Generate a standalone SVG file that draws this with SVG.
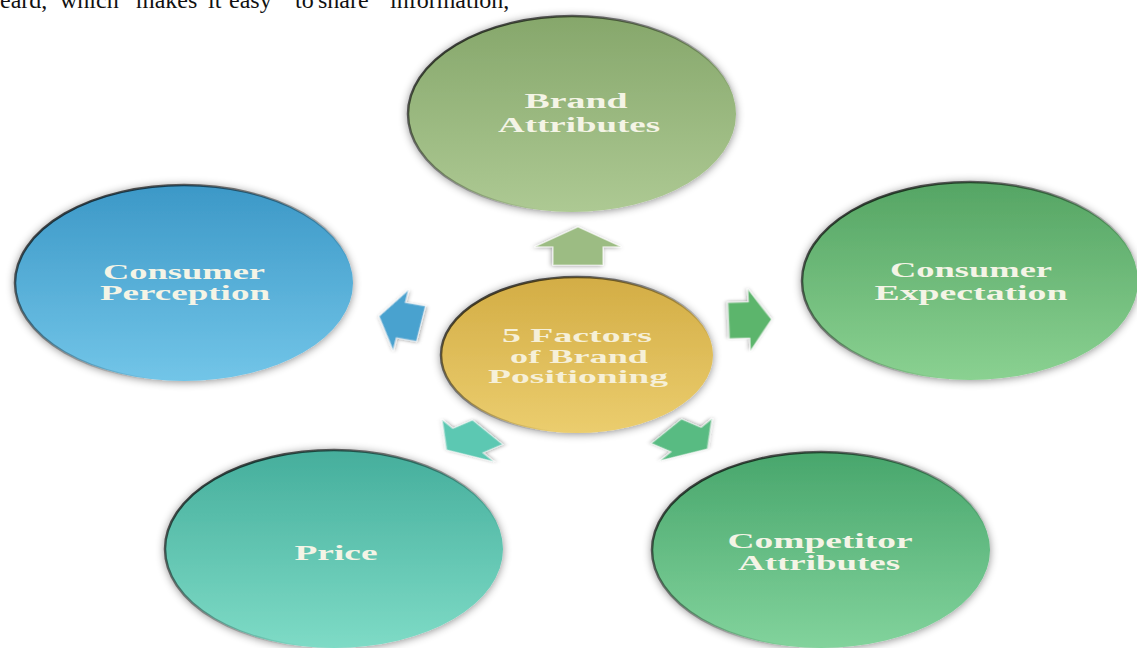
<svg xmlns="http://www.w3.org/2000/svg" width="1137" height="648" viewBox="0 0 1137 648">
  <style>
    .hdr { font-family: "Liberation Serif", "Times New Roman", serif; font-size: 24px; fill: #111; }
    .lbl { font-family: "Liberation Serif", "Times New Roman", serif; font-weight: bold; font-size: 20px; fill: #f4f4e6; text-anchor: middle; }
    .lblc { font-family: "Liberation Serif", "Times New Roman", serif; font-weight: bold; font-size: 19px; fill: #f6f0d8; text-anchor: middle; }
    .node { filter: url(#shadow); stroke: url(#rim); stroke-width: 2.5; }
    .arr { filter: url(#ashadow); stroke: #ffffff; stroke-opacity: 0.55; stroke-width: 1.5; stroke-linejoin: round; }
  </style>
  <defs>
    <filter id="shadow" x="-10%" y="-15%" width="120%" height="130%">
      <feDropShadow dx="0" dy="1" stdDeviation="4" flood-color="#000" flood-opacity="0.45"/>
    </filter>
    <filter id="ashadow" x="-30%" y="-30%" width="160%" height="160%">
      <feDropShadow dx="-1" dy="1" stdDeviation="2.5" flood-color="#000" flood-opacity="0.4"/>
    </filter>
    <linearGradient id="rim" x1="0" y1="0" x2="1" y2="1">
      <stop offset="0" stop-color="#000" stop-opacity="0.85"/>
      <stop offset="0.45" stop-color="#000" stop-opacity="0.35"/>
      <stop offset="0.7" stop-color="#000" stop-opacity="0"/>
    </linearGradient>
    <linearGradient id="gBrand" x1="0" y1="0" x2="0" y2="1">
      <stop offset="0" stop-color="#86a76b"/>
      <stop offset="1" stop-color="#adc993"/>
    </linearGradient>
    <linearGradient id="gPerc" x1="0" y1="0" x2="0" y2="1">
      <stop offset="0" stop-color="#3c98c7"/>
      <stop offset="1" stop-color="#72c5e8"/>
    </linearGradient>
    <linearGradient id="gExp" x1="0" y1="0" x2="0" y2="1">
      <stop offset="0" stop-color="#55a564"/>
      <stop offset="1" stop-color="#8ad191"/>
    </linearGradient>
    <linearGradient id="gPrice" x1="0" y1="0" x2="0" y2="1">
      <stop offset="0" stop-color="#45ae9c"/>
      <stop offset="1" stop-color="#7edbc6"/>
    </linearGradient>
    <linearGradient id="gComp" x1="0" y1="0" x2="0" y2="1">
      <stop offset="0" stop-color="#48a66c"/>
      <stop offset="1" stop-color="#82d39c"/>
    </linearGradient>
    <linearGradient id="gCenter" x1="0" y1="0" x2="0" y2="1">
      <stop offset="0" stop-color="#d3ad45"/>
      <stop offset="1" stop-color="#ebcd6e"/>
    </linearGradient>
    <path id="arrow" d="M0,-25 L43,1 L25,1 L25,25 L-25,25 L-25,1 L-43,1 Z"/>
  </defs>

  <rect width="1137" height="648" fill="#ffffff"/>

  <g id="header-text">
    <text class="hdr" x="0" y="8">eard,</text>
    <text class="hdr" x="60" y="8">which</text>
    <text class="hdr" x="136" y="8">makes</text>
    <text class="hdr" x="208" y="8">it</text>
    <text class="hdr" x="229" y="8">easy</text>
    <text class="hdr" x="295" y="8">to</text>
    <text class="hdr" x="318" y="8">share</text>
    <text class="hdr" x="390" y="8">information,</text>
  </g>

  <g id="connectors">
    <use href="#arrow" class="arr" fill="#9cbc83" transform="translate(578,246) scale(1,0.76)"/>
    <use href="#arrow" class="arr" fill="#4aa2cf" transform="translate(400,320) scale(0.86,0.72) rotate(-78)"/>
    <use href="#arrow" class="arr" fill="#5cb56c" transform="translate(750,320) scale(0.86,0.72) rotate(88)"/>
    <use href="#arrow" class="arr" fill="#5cc8b2" transform="translate(467,441) scale(1.02,0.6) rotate(234)"/>
    <use href="#arrow" class="arr" fill="#58bb82" transform="translate(687,440) scale(1.02,0.6) rotate(126)"/>
  </g>

  <g id="node-brand-attributes">
    <ellipse class="node" cx="572" cy="114" rx="164" ry="98" fill="url(#gBrand)"/>
    <text class="lbl" x="576" y="108" textLength="103" lengthAdjust="spacingAndGlyphs">Brand</text>
    <text class="lbl" x="579" y="132" textLength="162" lengthAdjust="spacingAndGlyphs">Attributes</text>
  </g>

  <g id="node-consumer-perception">
    <ellipse class="node" cx="184" cy="283" rx="169" ry="98" fill="url(#gPerc)"/>
    <text class="lbl" x="184" y="279" textLength="162" lengthAdjust="spacingAndGlyphs">Consumer</text>
    <text class="lbl" x="185" y="300" textLength="170" lengthAdjust="spacingAndGlyphs">Perception</text>
  </g>

  <g id="node-consumer-expectation">
    <ellipse class="node" cx="970" cy="281" rx="168" ry="99" fill="url(#gExp)"/>
    <text class="lbl" x="971" y="277" textLength="162" lengthAdjust="spacingAndGlyphs">Consumer</text>
    <text class="lbl" x="971" y="300" textLength="193" lengthAdjust="spacingAndGlyphs">Expectation</text>
  </g>

  <g id="node-center">
    <ellipse class="node" cx="577" cy="355" rx="136" ry="78" fill="url(#gCenter)"/>
    <text class="lblc" x="577" y="342" textLength="150" lengthAdjust="spacingAndGlyphs">5 Factors</text>
    <text class="lblc" x="579" y="363" textLength="138" lengthAdjust="spacingAndGlyphs">of Brand</text>
    <text class="lblc" x="578" y="383" textLength="180" lengthAdjust="spacingAndGlyphs">Positioning</text>
  </g>

  <g id="node-price">
    <ellipse class="node" cx="334" cy="549" rx="169" ry="99" fill="url(#gPrice)"/>
    <text class="lbl" x="336" y="560" textLength="83" lengthAdjust="spacingAndGlyphs">Price</text>
  </g>

  <g id="node-competitor-attributes">
    <ellipse class="node" cx="821" cy="550" rx="169" ry="98" fill="url(#gComp)"/>
    <text class="lbl" x="820" y="548" textLength="185" lengthAdjust="spacingAndGlyphs">Competitor</text>
    <text class="lbl" x="819" y="570" textLength="162" lengthAdjust="spacingAndGlyphs">Attributes</text>
  </g>
</svg>
